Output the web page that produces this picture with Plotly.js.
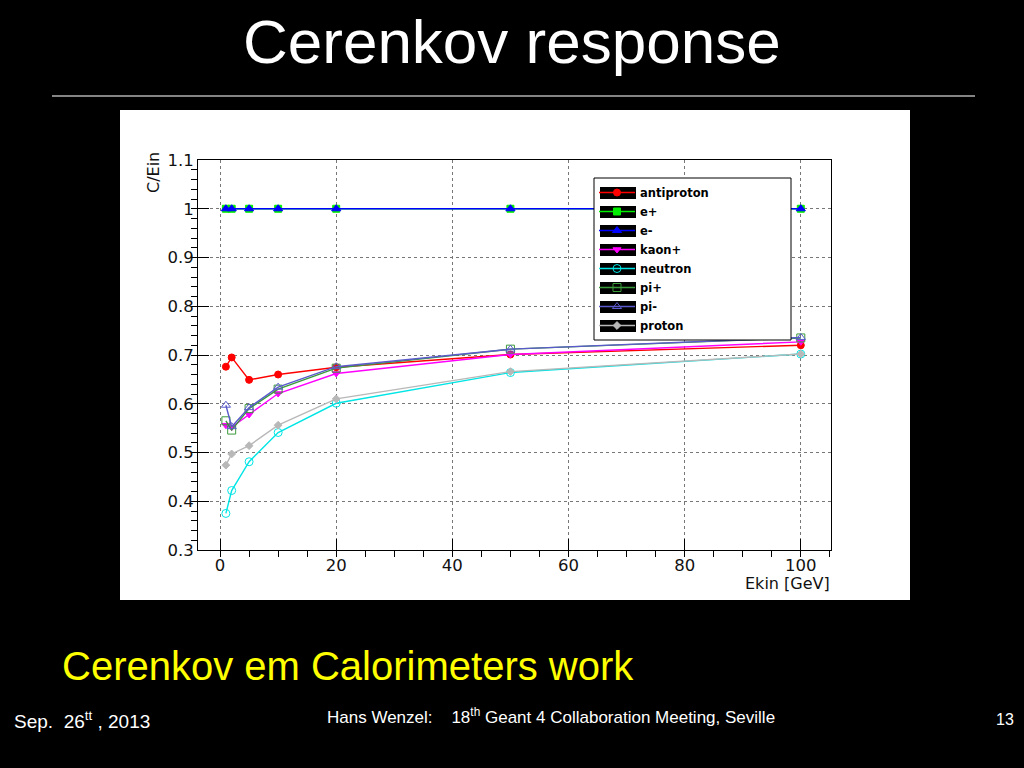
<!DOCTYPE html>
<html>
<head>
<meta charset="utf-8">
<script src="https://cdn.plot.ly/plotly-3.0.1.min.js"></script>
<style>html,body{margin:0;padding:0;background:#000;}#chart{width:1024px;height:768px;}</style>
</head>
<body>
<div id="chart"></div>
<script>
// ---- data ----
const energies = [1, 2, 5, 10, 20, 50, 100];
const antiproton = [0.676, 0.695, 0.649, 0.660, 0.675, 0.701, 0.720];
const ePlus      = [1.0, 1.0, 1.0, 1.0, 1.0, 1.0, 1.0];
const eMinus     = [1.0, 1.0, 1.0, 1.0, 1.0, 1.0, 1.0];
const kaonPlus   = [0.556, 0.552, 0.578, 0.621, 0.662, 0.701, 0.727];
const neutron    = [0.375, 0.422, 0.481, 0.541, 0.601, 0.664, 0.702];
const piPlus     = [0.565, 0.546, 0.590, 0.630, 0.673, 0.712, 0.735];
const piMinus    = [0.597, 0.553, 0.592, 0.634, 0.676, 0.712, 0.736];
const proton     = [0.474, 0.497, 0.514, 0.556, 0.610, 0.666, 0.702];
const seriesNames = ["antiproton", "e+", "e-", "kaon+", "neutron", "pi+", "pi-", "proton"];

// ---- layout helpers (pixel -> paper) ----
const L = 198, R = 831, T = 160, B = 550;
const W = R - L, H = B - T;
const px = v => (v - L) / W;
const py = v => (B - v) / H;

const styles = [
  {color: "#ff0000", symbol: "circle", size: 7},
  {color: "#00ee00", symbol: "square", size: 7},
  {color: "#0000ff", symbol: "triangle-up", size: 8},
  {color: "#ff00ff", symbol: "triangle-down", size: 7},
  {color: "#00e5e5", symbol: "circle-open", size: 8},
  {color: "#3a9a3a", symbol: "square-open", size: 8},
  {color: "#5a5acc", symbol: "triangle-up-open", size: 8},
  {color: "#b8b8b8", symbol: "diamond", size: 6}
];
const values = [antiproton, ePlus, eMinus, kaonPlus, neutron, piPlus, piMinus, proton];

const traces = seriesNames.map((n, i) => ({
  type: "scatter",
  mode: "lines+markers",
  name: n,
  x: energies,
  y: values[i],
  line: {color: styles[i].color, width: 1.4},
  marker: {color: styles[i].color, symbol: styles[i].symbol, size: styles[i].size,
           line: {color: styles[i].color, width: 1}}
}));

const legTop = 178;
const shapes = [
  {type: "rect", xref: "paper", yref: "paper", x0: px(120), x1: px(910), y0: py(600), y1: py(110),
   fillcolor: "#ffffff", line: {width: 0}, layer: "below"},
  {type: "line", xref: "paper", yref: "paper", x0: px(52), x1: px(975), y0: py(96), y1: py(96),
   line: {color: "#b0b0b0", width: 1.5}},
  {type: "rect", xref: "paper", yref: "paper", x0: px(594), x1: px(791), y0: py(legTop + 162), y1: py(legTop),
   fillcolor: "#ffffff", line: {color: "#000000", width: 1}, layer: "above"}
];
for (let i = 0; i < seriesNames.length; i++) {
  const c = legTop + 15 + 19 * i;
  shapes.push({type: "rect", xref: "paper", yref: "paper", x0: px(600), x1: px(636),
    y0: py(c + 6), y1: py(c - 6), fillcolor: "#000000", line: {width: 0}, layer: "above"});
}

const ann = (text, x, y, opts) => Object.assign({
  text: text, xref: "paper", yref: "paper", x: px(x), y: py(y), showarrow: false
}, opts);

const annotations = [
  ann("Cerenkov response", 512, 42, {xanchor: "center", yanchor: "middle",
      font: {family: "Liberation Sans, Arial", size: 62, color: "#ffffff"}}),
  ann("Cerenkov em Calorimeters work", 60, 666, {xanchor: "left", yanchor: "middle",
      font: {family: "Liberation Sans, Arial", size: 40, color: "#ffff00"}}),
  ann("Sep.  26<sup>tt</sup> , 2013", 12, 720, {xanchor: "left", yanchor: "middle",
      font: {family: "Liberation Sans, Arial", size: 19, color: "#ffffff"}}),
  ann("Hans Wenzel:    18<sup>th</sup> Geant 4 Collaboration Meeting, Seville", 325, 716, {xanchor: "left", yanchor: "middle",
      font: {family: "Liberation Sans, Arial", size: 17, color: "#ffffff"}}),
  ann("13", 1016, 719, {xanchor: "right", yanchor: "middle",
      font: {family: "Liberation Sans, Arial", size: 16, color: "#ffffff"}}),
  ann("C/Ein", 153, 173, {xanchor: "center", yanchor: "middle", textangle: -90,
      font: {family: "DejaVu Sans, Liberation Sans", size: 16, color: "#111111"}}),
  ann("Ekin [GeV]", 832, 583, {xanchor: "right", yanchor: "middle",
      font: {family: "DejaVu Sans, Liberation Sans", size: 16, color: "#111111"}})
];

const axisCommon = {
  showline: true, linecolor: "#000000", linewidth: 1, mirror: true,
  ticks: "inside", ticklen: 11, tickcolor: "#000000", tickwidth: 1,
  showgrid: true, gridcolor: "#777777", griddash: "dot", gridwidth: 1,
  zeroline: false,
  tickfont: {family: "DejaVu Sans, Liberation Sans", size: 16.5, color: "#111111"}
};

const layout = {
  width: 1024, height: 768,
  paper_bgcolor: "#000000", plot_bgcolor: "#ffffff",
  margin: {l: L, r: 1024 - R, t: T, b: 768 - B, pad: 0},
  showlegend: true,
  legend: {x: px(594), y: py(legTop), xanchor: "left", yanchor: "top",
           bgcolor: "rgba(0,0,0,0)", borderwidth: 0, itemwidth: 36,
           font: {family: "DejaVu Sans, Liberation Sans", size: 11.5, color: "#000000", weight: "bold"},
           tracegroupgap: 0},
  xaxis: Object.assign({}, axisCommon, {range: [-3.8, 105.2], tick0: 0, dtick: 20,
           minor: {dtick: 5, ticklen: 6, tickcolor: "#000000", showgrid: false}}),
  yaxis: Object.assign({}, axisCommon, {range: [0.3, 1.1], tick0: 0.3, dtick: 0.1,
           minor: {dtick: 0.02, ticklen: 6, tickcolor: "#000000", showgrid: false}}),
  shapes: shapes,
  annotations: annotations
};

Plotly.newPlot("chart", traces, layout, {displayModeBar: false, staticPlot: true});
</script>
</body>
</html>
